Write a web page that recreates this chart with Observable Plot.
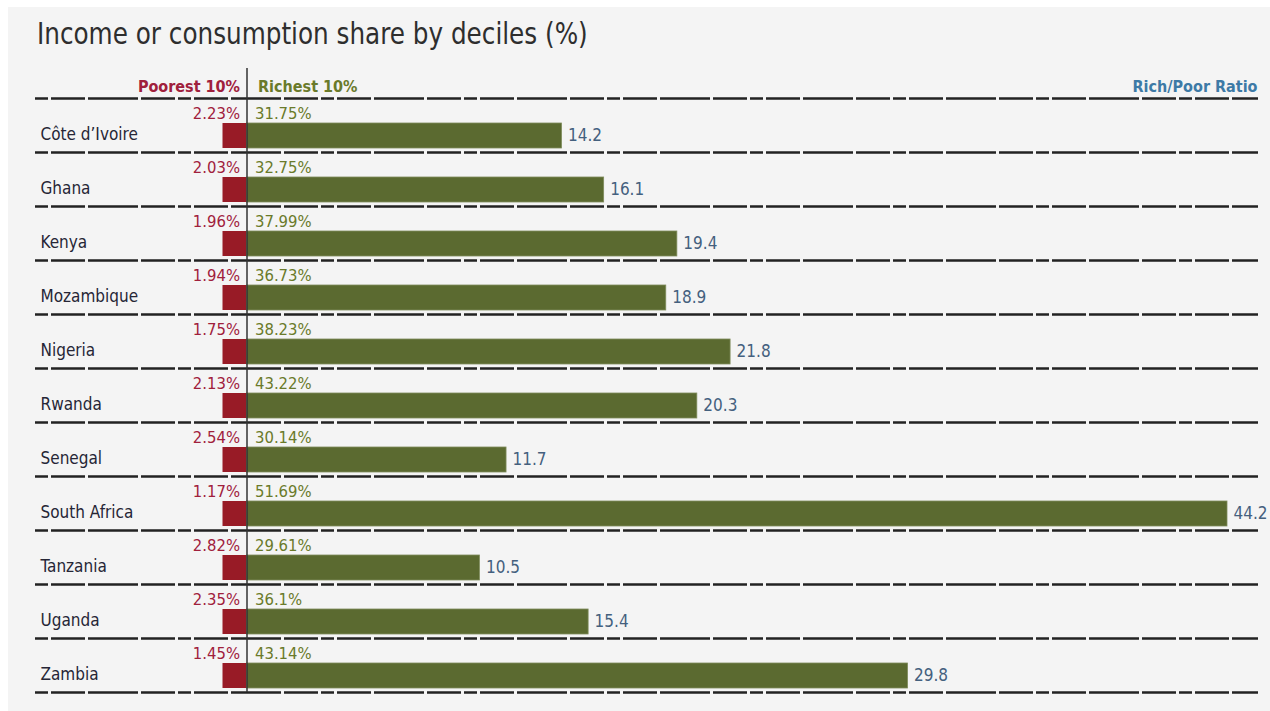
<!DOCTYPE html>
<html>
<head>
<meta charset="utf-8">
<script src="https://cdn.jsdelivr.net/npm/d3@7"></script>
<script src="https://cdn.jsdelivr.net/npm/@observablehq/plot@0.6"></script>
<style>
  html, body { margin: 0; padding: 0; background: #ffffff; }
  #panel { position: absolute; left: 8px; top: 7px; width: 1262px; height: 704px; background: #f4f4f4; overflow: hidden; }
  #title { position: absolute; left: 29px; top: 12px; font-family: "Liberation Sans Narrow", "DejaVu Sans Condensed", "Roboto Condensed", sans-serif; font-stretch: condensed; font-size: 30px; line-height: 1; color: #2e2e2e; white-space: nowrap; transform: scaleX(0.915); transform-origin: 0 0; }
  #chart { position: absolute; left: 0; top: 56px; }
</style>
</head>
<body>
<div id="panel">
  <div id="title">Income or consumption share by deciles (%)</div>
  <div id="chart"></div>
</div>
<script>
const countries = ["Côte d’Ivoire", "Ghana", "Kenya", "Mozambique", "Nigeria", "Rwanda", "Senegal", "South Africa", "Tanzania", "Uganda", "Zambia"];
const poorest = [2.23, 2.03, 1.96, 1.94, 1.75, 2.13, 2.54, 1.17, 2.82, 2.35, 1.45];
const richest = [31.75, 32.75, 37.99, 36.73, 38.23, 43.22, 30.14, 51.69, 29.61, 36.1, 43.14];
const ratio = [14.2, 16.1, 19.4, 18.9, 21.8, 20.3, 11.7, 44.2, 10.5, 15.4, 29.8];
const headers = ["Poorest 10%", "Richest 10%", "Rich/Poor Ratio"];

const rows = countries.map((c, i) => ({country: c, poorest: poorest[i], richest: richest[i], ratio: ratio[i]}));

const font = "'Liberation Sans Narrow', 'DejaVu Sans Condensed', 'Roboto Condensed', sans-serif";
const red = "#981b26";
const green = "#5b6a30";
const dash = "50,3,34,3,13,3,34,3";

const chart = Plot.plot({
  width: 1262,
  height: 648,
  marginLeft: 27,
  marginRight: 12,
  marginTop: 5,
  marginBottom: 19,
  style: {background: "transparent", fontFamily: font, overflow: "visible"},
  x: {domain: [0, d3.max(ratio)], range: [238.5, 1219], axis: null},
  y: {domain: countries, range: [35, 629], padding: 0, axis: null},
  marks: [
    // row separators (dashed)
    Plot.ruleY(rows, {y: "country", dy: 27, stroke: "#222", strokeWidth: 2.5, strokeDasharray: dash, strokeDashoffset: 90}),
    Plot.ruleY(rows.slice(0, 1), {y: "country", dy: -27, stroke: "#222", strokeWidth: 2.5, strokeDasharray: dash, strokeDashoffset: 90}),
    // poorest (fixed-width marker bar)
    Plot.barX(rows, {y: "country", x1: 0, x2: 0, insetLeft: -24, insetTop: 25, insetBottom: 4, fill: red}),
    // ratio bars
    Plot.barX(rows, {y: "country", x1: 0, x2: "ratio", insetTop: 25, insetBottom: 4, fill: green, stroke: "#7f8c5c", strokeWidth: 0.8}),
    // baseline
    Plot.ruleX([0], {stroke: "#333", strokeWidth: 1.5}),
    // country names
    Plot.text(rows, {y: "country", text: "country", frameAnchor: "left", textAnchor: "start", dx: 5, dy: 9, fontSize: 17, fill: "#262636"}),
    // poorest share labels
    Plot.text(rows, {y: "country", x: 0, text: d => d.poorest + "%", textAnchor: "end", dx: -7, dy: -12, fontSize: 16.5, fill: "#a0203c"}),
    // richest share labels
    Plot.text(rows, {y: "country", x: 0, text: d => d.richest + "%", textAnchor: "start", dx: 8, dy: -12, fontSize: 16.5, fill: "#6a7a2a"}),
    // ratio labels
    Plot.text(rows, {y: "country", x: "ratio", text: d => String(d.ratio), textAnchor: "start", dx: 6, dy: 10, fontSize: 17, fill: "#44607e"}),
    // headers
    Plot.text([headers[0]], {x: 0, text: d => d, frameAnchor: "top", textAnchor: "end", dx: -7, dy: 12, fontSize: 16, fontWeight: "bold", fill: "#a0203c"}),
    Plot.text([headers[1]], {x: 0, text: d => d, frameAnchor: "top", textAnchor: "start", dx: 11, dy: 12, fontSize: 16, fontWeight: "bold", fill: "#6a7a2a"}),
    Plot.text([headers[2]], {text: d => d, frameAnchor: "top-right", textAnchor: "end", dx: -1, dy: 12, fontSize: 16, fontWeight: "bold", fill: "#3d7aa6"})
  ]
});
document.getElementById("chart").appendChild(chart);
</script>
</body>
</html>
